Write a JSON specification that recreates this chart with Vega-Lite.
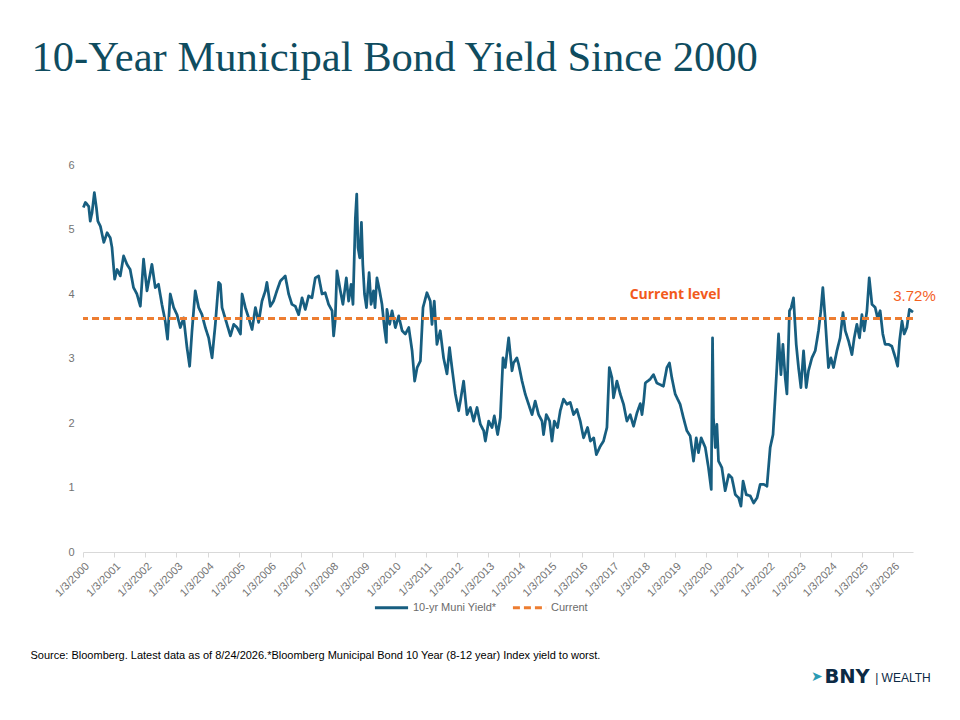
{
  "$schema": "https://vega.github.io/schema/vega-lite/v6.json",
  "background": "white",
  "padding": {"left": 30, "top": 37, "right": 10, "bottom": 10},
  "config": {"view": {"stroke": null}, "font": "Liberation Sans", "concat": {"spacing": 0}, "axisX": {"labelOverlap": false}},
  "title": {"text": "➤", "orient": "bottom", "anchor": "end", "font": "DejaVu Sans", "fontSize": 14, "fontWeight": "normal", "color": "#2a9bb4", "offset": 0, "dx": -113, "dy": -17},
  "resolve": {"scale": {"color": "independent", "strokeDash": "independent"}},
  "vconcat": [
    {
      "title": {"text": "BNY", "orient": "bottom", "anchor": "end", "font": "DejaVu Sans", "fontSize": 19.5, "fontWeight": "bold", "color": "#0c2a45", "offset": 0, "dx": -66, "dy": -16},
      "resolve": {"scale": {"color": "independent", "strokeDash": "independent"}},
      "vconcat": [
        {
          "title": {"text": "| WEALTH", "orient": "bottom", "anchor": "end", "font": "Liberation Sans", "fontSize": 12, "fontWeight": "normal", "color": "#0c2a45", "offset": 12, "dx": -5},
          "resolve": {"scale": {"color": "independent", "strokeDash": "independent"}},
          "vconcat": [
            {
              "title": {"text": "Source: Bloomberg. Latest data as of 8/24/2026.*Bloomberg Municipal Bond 10 Year (8-12 year) Index yield to worst.", "orient": "bottom", "anchor": "start", "font": "Liberation Sans", "fontSize": 11, "fontWeight": "normal", "color": "#000000", "offset": 36, "dx": -1},
              "resolve": {"scale": {"color": "independent", "strokeDash": "independent"}},
              "vconcat": [
                {
                  "width": 830,
                  "height": 387,
                  "title": {"text": "10-Year Municipal Bond Yield Since 2000", "anchor": "start", "frame": "group", "font": "Liberation Serif", "fontSize": 42.6, "fontWeight": "normal", "color": "#0f4c5f", "offset": 79, "dx": -51.5},
                  "layer": [
                    {
                      "data": {"values": [
                        {"date": "2000-01-07", "yield": 5.34}, {"date": "2000-01-31", "yield": 5.42}, {"date": "2000-03-10", "yield": 5.36}, {"date": "2000-03-28", "yield": 5.13},
                        {"date": "2000-04-18", "yield": 5.26}, {"date": "2000-05-15", "yield": 5.57}, {"date": "2000-06-08", "yield": 5.34}, {"date": "2000-06-25", "yield": 5.13},
                        {"date": "2000-07-25", "yield": 5.05}, {"date": "2000-09-03", "yield": 4.80}, {"date": "2000-10-12", "yield": 4.95}, {"date": "2000-11-18", "yield": 4.87},
                        {"date": "2000-12-08", "yield": 4.72}, {"date": "2001-01-08", "yield": 4.23}, {"date": "2001-02-06", "yield": 4.38}, {"date": "2001-03-15", "yield": 4.28},
                        {"date": "2001-04-23", "yield": 4.59}, {"date": "2001-06-01", "yield": 4.46}, {"date": "2001-07-09", "yield": 4.38}, {"date": "2001-08-17", "yield": 4.10},
                        {"date": "2001-09-26", "yield": 4.00}, {"date": "2001-11-05", "yield": 3.81}, {"date": "2001-12-13", "yield": 4.54}, {"date": "2002-01-22", "yield": 4.05},
                        {"date": "2002-03-21", "yield": 4.46}, {"date": "2002-04-29", "yield": 4.10}, {"date": "2002-06-06", "yield": 4.15}, {"date": "2002-07-16", "yield": 3.84},
                        {"date": "2002-08-24", "yield": 3.58}, {"date": "2002-09-20", "yield": 3.30}, {"date": "2002-10-22", "yield": 4.00}, {"date": "2002-12-01", "yield": 3.79},
                        {"date": "2003-01-09", "yield": 3.68}, {"date": "2003-02-17", "yield": 3.48}, {"date": "2003-03-28", "yield": 3.63}, {"date": "2003-05-06", "yield": 3.17},
                        {"date": "2003-06-06", "yield": 2.88}, {"date": "2003-07-04", "yield": 3.43}, {"date": "2003-08-11", "yield": 4.05}, {"date": "2003-09-20", "yield": 3.79},
                        {"date": "2003-10-29", "yield": 3.68}, {"date": "2003-12-07", "yield": 3.48}, {"date": "2004-01-15", "yield": 3.32}, {"date": "2004-02-24", "yield": 3.01},
                        {"date": "2004-04-02", "yield": 3.53}, {"date": "2004-05-11", "yield": 4.18}, {"date": "2004-06-01", "yield": 4.15}, {"date": "2004-06-20", "yield": 3.79},
                        {"date": "2004-08-17", "yield": 3.53}, {"date": "2004-09-26", "yield": 3.35}, {"date": "2004-11-04", "yield": 3.53}, {"date": "2004-12-13", "yield": 3.48},
                        {"date": "2005-01-22", "yield": 3.38}, {"date": "2005-02-10", "yield": 4.00}, {"date": "2005-03-20", "yield": 3.79}, {"date": "2005-04-28", "yield": 3.63},
                        {"date": "2005-06-07", "yield": 3.45}, {"date": "2005-07-16", "yield": 3.79}, {"date": "2005-08-23", "yield": 3.56}, {"date": "2005-10-01", "yield": 3.89},
                        {"date": "2005-11-10", "yield": 4.05}, {"date": "2005-11-28", "yield": 4.18}, {"date": "2006-01-07", "yield": 3.81}, {"date": "2006-02-14", "yield": 3.89},
                        {"date": "2006-03-25", "yield": 4.05}, {"date": "2006-05-04", "yield": 4.20}, {"date": "2006-07-01", "yield": 4.28}, {"date": "2006-08-10", "yield": 4.00},
                        {"date": "2006-09-17", "yield": 3.84}, {"date": "2006-10-27", "yield": 3.81}, {"date": "2006-12-05", "yield": 3.68}, {"date": "2007-01-14", "yield": 3.94},
                        {"date": "2007-02-21", "yield": 3.76}, {"date": "2007-04-01", "yield": 3.97}, {"date": "2007-05-10", "yield": 3.94}, {"date": "2007-06-18", "yield": 4.25},
                        {"date": "2007-07-27", "yield": 4.28}, {"date": "2007-09-05", "yield": 4.00}, {"date": "2007-10-12", "yield": 4.02}, {"date": "2007-11-21", "yield": 3.84},
                        {"date": "2008-01-01", "yield": 3.74}, {"date": "2008-01-19", "yield": 3.35}, {"date": "2008-02-06", "yield": 3.58}, {"date": "2008-02-27", "yield": 4.36},
                        {"date": "2008-04-07", "yield": 4.05}, {"date": "2008-05-07", "yield": 3.84}, {"date": "2008-06-16", "yield": 4.25}, {"date": "2008-07-13", "yield": 3.89},
                        {"date": "2008-08-11", "yield": 4.15}, {"date": "2008-09-02", "yield": 3.84}, {"date": "2008-09-17", "yield": 4.56}, {"date": "2008-09-30", "yield": 5.18},
                        {"date": "2008-10-16", "yield": 5.55}, {"date": "2008-10-31", "yield": 4.72}, {"date": "2008-11-20", "yield": 4.56}, {"date": "2008-12-10", "yield": 5.11},
                        {"date": "2008-12-26", "yield": 4.46}, {"date": "2009-01-15", "yield": 4.00}, {"date": "2009-02-07", "yield": 3.79}, {"date": "2009-03-10", "yield": 4.33},
                        {"date": "2009-04-02", "yield": 3.84}, {"date": "2009-05-01", "yield": 4.05}, {"date": "2009-05-18", "yield": 3.79}, {"date": "2009-06-10", "yield": 4.25},
                        {"date": "2009-07-11", "yield": 4.05}, {"date": "2009-08-08", "yield": 3.84}, {"date": "2009-09-05", "yield": 3.48}, {"date": "2009-09-28", "yield": 3.25},
                        {"date": "2009-10-05", "yield": 3.76}, {"date": "2009-11-06", "yield": 3.53}, {"date": "2009-12-04", "yield": 3.74}, {"date": "2010-01-12", "yield": 3.48},
                        {"date": "2010-02-20", "yield": 3.66}, {"date": "2010-04-01", "yield": 3.43}, {"date": "2010-05-09", "yield": 3.38}, {"date": "2010-06-18", "yield": 3.48},
                        {"date": "2010-07-27", "yield": 3.12}, {"date": "2010-08-26", "yield": 2.65}, {"date": "2010-09-24", "yield": 2.86}, {"date": "2010-11-01", "yield": 2.96},
                        {"date": "2010-12-02", "yield": 3.79}, {"date": "2011-01-17", "yield": 4.02}, {"date": "2011-02-25", "yield": 3.89}, {"date": "2011-03-17", "yield": 3.53},
                        {"date": "2011-04-13", "yield": 3.89}, {"date": "2011-05-14", "yield": 3.22}, {"date": "2011-06-22", "yield": 3.43}, {"date": "2011-07-31", "yield": 3.01},
                        {"date": "2011-09-09", "yield": 2.76}, {"date": "2011-10-09", "yield": 3.17}, {"date": "2011-11-06", "yield": 2.86}, {"date": "2011-12-16", "yield": 2.45},
                        {"date": "2012-01-24", "yield": 2.19}, {"date": "2012-02-13", "yield": 2.34}, {"date": "2012-03-22", "yield": 2.65}, {"date": "2012-05-01", "yield": 2.13},
                        {"date": "2012-06-09", "yield": 2.24}, {"date": "2012-07-17", "yield": 2.03}, {"date": "2012-08-26", "yield": 2.24}, {"date": "2012-10-04", "yield": 1.98},
                        {"date": "2012-11-12", "yield": 1.88}, {"date": "2012-12-02", "yield": 1.72}, {"date": "2013-01-10", "yield": 2.03}, {"date": "2013-02-18", "yield": 1.93},
                        {"date": "2013-03-17", "yield": 2.11}, {"date": "2013-04-25", "yield": 1.82}, {"date": "2013-05-26", "yield": 2.08}, {"date": "2013-06-27", "yield": 3.01},
                        {"date": "2013-07-23", "yield": 2.86}, {"date": "2013-09-01", "yield": 3.32}, {"date": "2013-10-10", "yield": 2.81}, {"date": "2013-10-28", "yield": 2.93},
                        {"date": "2013-12-06", "yield": 3.01}, {"date": "2013-12-27", "yield": 2.91}, {"date": "2014-02-05", "yield": 2.65}, {"date": "2014-03-14", "yield": 2.45},
                        {"date": "2014-04-23", "yield": 2.29}, {"date": "2014-06-02", "yield": 2.13}, {"date": "2014-07-09", "yield": 2.34}, {"date": "2014-08-18", "yield": 2.13},
                        {"date": "2014-09-27", "yield": 2.03}, {"date": "2014-10-15", "yield": 1.82}, {"date": "2014-11-16", "yield": 2.13}, {"date": "2014-12-25", "yield": 2.03},
                        {"date": "2015-01-22", "yield": 1.72}, {"date": "2015-02-18", "yield": 2.03}, {"date": "2015-03-28", "yield": 1.93}, {"date": "2015-04-29", "yield": 2.19},
                        {"date": "2015-06-06", "yield": 2.37}, {"date": "2015-07-16", "yield": 2.29}, {"date": "2015-08-24", "yield": 2.32}, {"date": "2015-10-02", "yield": 2.13},
                        {"date": "2015-11-10", "yield": 2.21}, {"date": "2015-12-19", "yield": 2.03}, {"date": "2016-01-27", "yield": 1.77}, {"date": "2016-03-14", "yield": 1.93},
                        {"date": "2016-04-16", "yield": 1.72}, {"date": "2016-05-25", "yield": 1.77}, {"date": "2016-06-25", "yield": 1.51}, {"date": "2016-08-10", "yield": 1.64},
                        {"date": "2016-09-17", "yield": 1.72}, {"date": "2016-10-27", "yield": 1.93}, {"date": "2016-11-24", "yield": 2.86}, {"date": "2016-12-25", "yield": 2.70},
                        {"date": "2017-01-12", "yield": 2.39}, {"date": "2017-02-21", "yield": 2.65}, {"date": "2017-04-01", "yield": 2.45}, {"date": "2017-05-10", "yield": 2.29},
                        {"date": "2017-06-18", "yield": 2.03}, {"date": "2017-07-27", "yield": 2.13}, {"date": "2017-09-04", "yield": 1.95}, {"date": "2017-10-15", "yield": 2.16},
                        {"date": "2017-11-22", "yield": 2.30}, {"date": "2017-12-12", "yield": 2.13}, {"date": "2018-01-01", "yield": 2.34}, {"date": "2018-01-20", "yield": 2.62},
                        {"date": "2018-03-18", "yield": 2.68}, {"date": "2018-04-26", "yield": 2.75}, {"date": "2018-06-04", "yield": 2.62}, {"date": "2018-08-20", "yield": 2.57},
                        {"date": "2018-09-30", "yield": 2.86}, {"date": "2018-10-30", "yield": 2.93}, {"date": "2018-11-27", "yield": 2.70}, {"date": "2019-01-05", "yield": 2.45},
                        {"date": "2019-03-04", "yield": 2.29}, {"date": "2019-04-12", "yield": 2.08}, {"date": "2019-05-22", "yield": 1.88}, {"date": "2019-06-30", "yield": 1.80},
                        {"date": "2019-08-08", "yield": 1.41}, {"date": "2019-09-09", "yield": 1.77}, {"date": "2019-10-05", "yield": 1.54}, {"date": "2019-11-06", "yield": 1.77},
                        {"date": "2019-12-24", "yield": 1.62}, {"date": "2020-01-30", "yield": 1.31}, {"date": "2020-03-03", "yield": 0.97}, {"date": "2020-03-18", "yield": 3.32},
                        {"date": "2020-03-29", "yield": 2.08}, {"date": "2020-04-19", "yield": 1.62}, {"date": "2020-05-08", "yield": 1.98}, {"date": "2020-05-27", "yield": 1.41},
                        {"date": "2020-07-05", "yield": 1.31}, {"date": "2020-08-13", "yield": 0.95}, {"date": "2020-09-24", "yield": 1.20}, {"date": "2020-10-31", "yield": 1.15},
                        {"date": "2020-12-10", "yield": 0.89}, {"date": "2021-01-18", "yield": 0.84}, {"date": "2021-02-14", "yield": 0.71}, {"date": "2021-03-11", "yield": 1.10},
                        {"date": "2021-04-17", "yield": 0.89}, {"date": "2021-06-03", "yield": 0.87}, {"date": "2021-07-13", "yield": 0.76}, {"date": "2021-08-22", "yield": 0.84},
                        {"date": "2021-09-28", "yield": 1.05}, {"date": "2021-11-06", "yield": 1.05}, {"date": "2021-12-16", "yield": 1.02}, {"date": "2022-01-23", "yield": 1.62},
                        {"date": "2022-02-25", "yield": 1.82}, {"date": "2022-03-22", "yield": 2.39}, {"date": "2022-04-11", "yield": 2.86}, {"date": "2022-05-01", "yield": 3.38},
                        {"date": "2022-05-29", "yield": 2.75}, {"date": "2022-06-21", "yield": 3.22}, {"date": "2022-07-18", "yield": 2.70}, {"date": "2022-08-07", "yield": 2.45},
                        {"date": "2022-09-06", "yield": 3.74}, {"date": "2022-09-26", "yield": 3.79}, {"date": "2022-10-23", "yield": 3.94}, {"date": "2022-11-24", "yield": 3.22},
                        {"date": "2022-12-21", "yield": 2.86}, {"date": "2023-01-18", "yield": 2.55}, {"date": "2023-02-18", "yield": 3.12}, {"date": "2023-03-21", "yield": 2.55},
                        {"date": "2023-04-17", "yield": 2.81}, {"date": "2023-05-27", "yield": 3.01}, {"date": "2023-07-05", "yield": 3.12}, {"date": "2023-08-12", "yield": 3.43},
                        {"date": "2023-09-09", "yield": 3.74}, {"date": "2023-10-02", "yield": 4.10}, {"date": "2023-10-29", "yield": 3.63}, {"date": "2023-11-18", "yield": 3.22},
                        {"date": "2023-12-07", "yield": 2.86}, {"date": "2024-01-04", "yield": 3.01}, {"date": "2024-02-04", "yield": 2.86}, {"date": "2024-03-15", "yield": 3.12},
                        {"date": "2024-04-22", "yield": 3.32}, {"date": "2024-05-25", "yield": 3.71}, {"date": "2024-06-21", "yield": 3.43}, {"date": "2024-07-30", "yield": 3.27},
                        {"date": "2024-09-07", "yield": 3.06}, {"date": "2024-10-04", "yield": 3.32}, {"date": "2024-11-04", "yield": 3.53}, {"date": "2024-12-05", "yield": 3.32},
                        {"date": "2025-01-02", "yield": 3.68}, {"date": "2025-01-29", "yield": 3.43}, {"date": "2025-03-02", "yield": 3.74}, {"date": "2025-03-29", "yield": 4.25},
                        {"date": "2025-04-30", "yield": 3.84}, {"date": "2025-06-07", "yield": 3.79}, {"date": "2025-07-04", "yield": 3.63}, {"date": "2025-08-04", "yield": 3.74},
                        {"date": "2025-09-04", "yield": 3.38}, {"date": "2025-10-01", "yield": 3.22}, {"date": "2025-11-09", "yield": 3.22}, {"date": "2025-12-19", "yield": 3.19},
                        {"date": "2026-01-30", "yield": 3.01}, {"date": "2026-02-25", "yield": 2.88}, {"date": "2026-03-19", "yield": 3.27}, {"date": "2026-04-17", "yield": 3.58},
                        {"date": "2026-05-13", "yield": 3.38}, {"date": "2026-06-13", "yield": 3.48}, {"date": "2026-07-13", "yield": 3.76}, {"date": "2026-08-24", "yield": 3.72}
                      ]},
                      "mark": {"type": "line", "strokeWidth": 2.75, "strokeJoin": "round"},
                      "encoding": {
                        "x": {
                          "field": "date",
                          "type": "temporal",
                          "title": null,
                          "scale": {"type": "utc", "domain": [{"year": 2000, "month": 1, "date": 3, "utc": true}, {"year": 2026, "month": 8, "date": 24, "utc": true}], "nice": false},
                          "axis": {
                            "values": [
                              {"year": 2000, "month": 1, "date": 3, "utc": true}, {"year": 2001, "month": 1, "date": 3, "utc": true}, {"year": 2002, "month": 1, "date": 3, "utc": true},
                              {"year": 2003, "month": 1, "date": 3, "utc": true}, {"year": 2004, "month": 1, "date": 3, "utc": true}, {"year": 2005, "month": 1, "date": 3, "utc": true},
                              {"year": 2006, "month": 1, "date": 3, "utc": true}, {"year": 2007, "month": 1, "date": 3, "utc": true}, {"year": 2008, "month": 1, "date": 3, "utc": true},
                              {"year": 2009, "month": 1, "date": 3, "utc": true}, {"year": 2010, "month": 1, "date": 3, "utc": true}, {"year": 2011, "month": 1, "date": 3, "utc": true},
                              {"year": 2012, "month": 1, "date": 3, "utc": true}, {"year": 2013, "month": 1, "date": 3, "utc": true}, {"year": 2014, "month": 1, "date": 3, "utc": true},
                              {"year": 2015, "month": 1, "date": 3, "utc": true}, {"year": 2016, "month": 1, "date": 3, "utc": true}, {"year": 2017, "month": 1, "date": 3, "utc": true},
                              {"year": 2018, "month": 1, "date": 3, "utc": true}, {"year": 2019, "month": 1, "date": 3, "utc": true}, {"year": 2020, "month": 1, "date": 3, "utc": true},
                              {"year": 2021, "month": 1, "date": 3, "utc": true}, {"year": 2022, "month": 1, "date": 3, "utc": true}, {"year": 2023, "month": 1, "date": 3, "utc": true},
                              {"year": 2024, "month": 1, "date": 3, "utc": true}, {"year": 2025, "month": 1, "date": 3, "utc": true}, {"year": 2026, "month": 1, "date": 3, "utc": true}
                            ],
                            "tickCount": 40,
                            "format": "%-m/%-d/%Y",
                            "labelAngle": -45,
                            "labelFontSize": 11,
                            "labelColor": "#737373",
                            "labelPadding": 3,
                            "labelOverlap": false,
                            "labelFlush": false,
                            "labelBound": false,
                            "grid": false,
                            "domainColor": "#d9d9d9",
                            "tickColor": "#d9d9d9",
                            "tickSize": 5
                          }
                        },
                        "y": {
                          "field": "yield",
                          "type": "quantitative",
                          "title": null,
                          "scale": {"domain": [0, 6], "nice": false, "zero": true},
                          "axis": {"values": [0, 1, 2, 3, 4, 5, 6], "format": "d", "domain": false, "ticks": false, "grid": false, "labelFontSize": 11, "labelColor": "#737373", "labelPadding": 9}
                        },
                        "color": {
                          "datum": "10-yr Muni Yield*",
                          "type": "nominal",
                          "scale": {"domain": ["10-yr Muni Yield*", "Current"], "range": ["#175e80", "#ed7d31"]},
                          "legend": {
                            "title": null,
                            "orient": "none",
                            "legendX": 290,
                            "legendY": 424,
                            "padding": 0,
                            "direction": "horizontal",
                            "symbolType": "stroke",
                            "symbolStrokeWidth": 3,
                            "symbolSize": 1100,
                            "labelFont": "Liberation Sans Narrow, Liberation Sans",
                            "labelFontSize": 11,
                            "labelColor": "#6b6b6b",
                            "columnPadding": 9,
                            "labelOffset": 3
                          }
                        },
                        "strokeDash": {
                          "datum": "10-yr Muni Yield*",
                          "type": "nominal",
                          "scale": {"domain": ["10-yr Muni Yield*", "Current"], "range": [[1, 0], [7, 4]]},
                          "legend": {
                            "title": null,
                            "orient": "none",
                            "legendX": 290,
                            "legendY": 424,
                            "padding": 0,
                            "direction": "horizontal",
                            "symbolType": "stroke",
                            "symbolStrokeWidth": 3,
                            "symbolSize": 1100,
                            "labelFont": "Liberation Sans Narrow, Liberation Sans",
                            "labelFontSize": 11,
                            "labelColor": "#6b6b6b",
                            "columnPadding": 9,
                            "labelOffset": 3
                          }
                        }
                      }
                    },
                    {
                      "data": {"values": [{"level": 3.62}]},
                      "mark": {"type": "rule", "strokeWidth": 3},
                      "encoding": {
                        "y": {"field": "level", "type": "quantitative"},
                        "color": {"datum": "Current", "type": "nominal"},
                        "strokeDash": {"datum": "Current", "type": "nominal"}
                      }
                    },
                    {
                      "data": {"values": [{"label": "Current level"}]},
                      "mark": {"type": "text", "font": "Open Sans", "fontWeight": "bold", "fontSize": 14, "color": "#f25a1c", "align": "center", "baseline": "middle"},
                      "encoding": {
                        "x": {"datum": {"year": 2019, "month": 1, "date": 5, "utc": true}, "type": "temporal"},
                        "y": {"datum": 3.98, "type": "quantitative"},
                        "text": {"field": "label"}
                      }
                    },
                    {
                      "data": {"values": [{"label": "3.72%"}]},
                      "mark": {"type": "text", "font": "Liberation Sans", "fontSize": 15, "color": "#f4601f", "align": "left", "baseline": "middle"},
                      "encoding": {
                        "x": {"datum": {"year": 2026, "month": 1, "date": 4, "utc": true}, "type": "temporal"},
                        "y": {"datum": 3.97, "type": "quantitative"},
                        "text": {"field": "label"}
                      }
                    }
                  ]
                }
              ]
            }
          ]
        }
      ]
    }
  ]
}
